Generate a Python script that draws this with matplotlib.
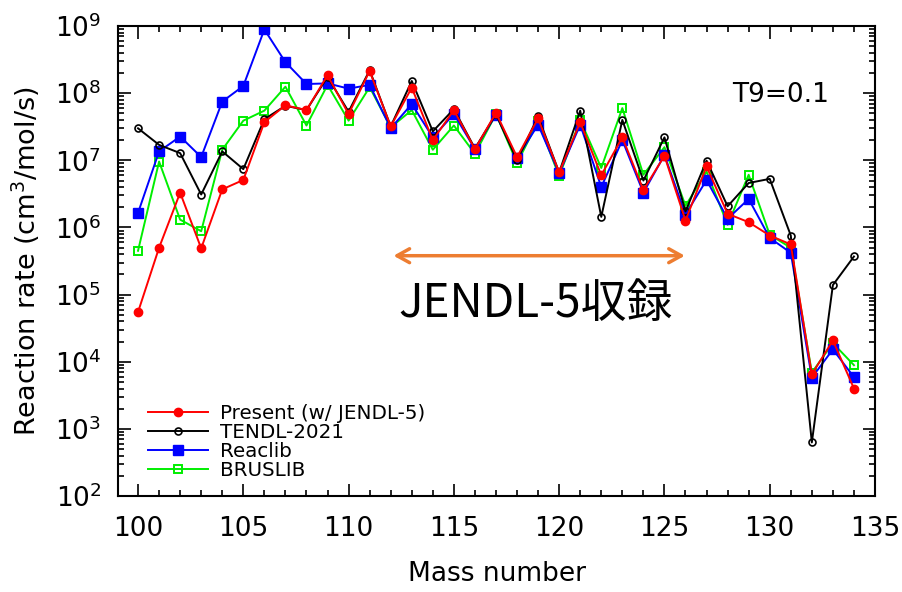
import matplotlib
matplotlib.use('Agg')
import matplotlib.pyplot as plt
from matplotlib.ticker import MultipleLocator, LogLocator, NullFormatter
from matplotlib import rcParams

rcParams['font.family'] = ['DejaVu Sans', 'Noto Sans CJK JP']
rcParams['mathtext.default'] = 'regular'
rcParams['xtick.direction'] = 'in'
rcParams['ytick.direction'] = 'in'

# 质量数与各库的反应率 (T9=0.1)
mass = list(range(100, 135))
present = [5.5e4, 5.0e5, 3.3e6, 4.9e5, 3.7e6, 5.1e6, 3.7e7, 6.6e7, 5.6e7, 1.85e8,
           4.9e7, 2.14e8, 3.2e7, 1.21e8, 2.0e7, 5.6e7, 1.47e7, 5.1e7, 1.12e7, 4.2e7,
           6.6e6, 3.7e7, 6.0e6, 2.2e7, 3.6e6, 1.17e7, 1.27e6, 8.1e6, 1.6e6, 1.2e6,
           7.6e5, 5.6e5, 6.5e3, 2.08e4, 4.0e3]
tendl = [3.0e7, 1.7e7, 1.28e7, 3.1e6, 1.36e7, 7.4e6, 4.1e7, 6.5e7, 5.6e7, 1.75e8,
         5.3e7, 2.2e8, 3.2e7, 1.52e8, 2.7e7, 5.8e7, 1.5e7, 4.9e7, 1.0e7, 4.5e7,
         6.6e6, 5.5e7, 1.44e6, 4.0e7, 5.0e6, 2.2e7, 1.74e6, 9.9e6, 2.07e6, 4.6e6,
         5.3e6, 7.6e5, 630, 1.39e5, 3.7e5]
reaclib = [1.65e6, 1.36e7, 2.26e7, 1.12e7, 7.5e7, 1.28e8, 8.9e8, 2.9e8, 1.37e8, 1.4e8,
           1.17e8, 1.33e8, 3.0e7, 6.9e7, 2.2e7, 4.9e7, 1.47e7, 4.8e7, 1.08e7, 3.4e7,
           6.4e6, 3.4e7, 4.0e6, 2.0e7, 3.3e6, 1.2e7, 1.56e6, 5.1e6, 1.35e6, 2.66e6,
           7.0e5, 4.2e5, 5.8e3, 1.53e4, 5.9e3]
bruslib = [4.5e5, 9.6e6, 1.31e6, 8.8e5, 1.44e7, 3.9e7, 5.5e7, 1.25e8, 3.3e7, 1.33e8,
           3.9e7, 1.23e8, 3.1e7, 5.6e7, 1.44e7, 3.3e7, 1.25e7, 4.9e7, 9.1e6, 3.8e7,
           5.8e6, 4.0e7, 7.7e6, 6.0e7, 6.1e6, 1.57e7, 2.1e6, 6.8e6, 1.1e6, 6.1e6,
           7.8e5, 5.0e5, 6.9e3, 1.9e4, 8.9e3]

fig = plt.figure(figsize=(9.03, 5.92), dpi=100)
ax = fig.add_axes([0.1307, 0.162, 0.8383, 0.794])

l_red, = ax.plot(mass, present, '-o', color='red', lw=1.4, ms=6, zorder=4,
                 label='Present (w/ JENDL-5)')
l_blk, = ax.plot(mass, tendl, '-o', color='black', mfc='none', lw=1.4, ms=5,
                 mew=1.2, zorder=3, label='TENDL-2021')
l_blu, = ax.plot(mass, reaclib, '-s', color='blue', lw=1.4, ms=6.5, zorder=2,
                 label='Reaclib')
l_grn, = ax.plot(mass, bruslib, '-s', color='#00ee00', mfc='none', lw=1.4, ms=5.5,
                 mew=1.4, zorder=1, label='BRUSLIB')

ax.set_yscale('log')
ax.set_xlim(99.05, 135)
ax.set_ylim(1e2, 1e9)
ax.xaxis.set_major_locator(MultipleLocator(5))
ax.xaxis.set_minor_locator(MultipleLocator(1))
ax.yaxis.set_major_locator(LogLocator(base=10, numticks=20))
ax.yaxis.set_minor_locator(LogLocator(base=10, subs=range(2, 10), numticks=20))
ax.yaxis.set_minor_formatter(NullFormatter())

ax.tick_params(which='both', top=True, right=True, width=1.2, labelsize=19)
ax.tick_params(which='major', length=9)
ax.tick_params(axis='x', which='major', pad=14)
ax.tick_params(axis='y', which='major', pad=12)
ax.tick_params(which='minor', length=4.5)
for s in ax.spines.values():
    s.set_linewidth(1.5)

ax.set_xlabel('Mass number', fontsize=19, labelpad=14)
ax.set_ylabel('Reaction rate (cm$^3$/mol/s)', fontsize=19.5)
ax.yaxis.set_label_coords(-0.100, 0.5)

# 橙色箭头和注释
ax.annotate('', xy=(112, 3.8e5), xytext=(126.1, 3.8e5),
            arrowprops=dict(arrowstyle='<->, head_length=0.9, head_width=0.5',
                            color='#ED7D31', lw=2.5))
ax.text(118.9, 7.2e4, 'JENDL-5収録', fontsize=33, ha='center', va='center',
        family=['Noto Sans CJK JP', 'DejaVu Sans'])
ax.text(130.5, 9.4e7, 'T9=0.1', fontsize=19, ha='center', va='center')

ax.legend(handles=[l_red, l_blk, l_blu, l_grn], loc='lower left',
          bbox_to_anchor=(0.016, -0.004), frameon=False, fontsize=14.3,
          handlelength=3.0, handletextpad=0.6, labelspacing=0.0)

plt.savefig('out.png', dpi=100)
